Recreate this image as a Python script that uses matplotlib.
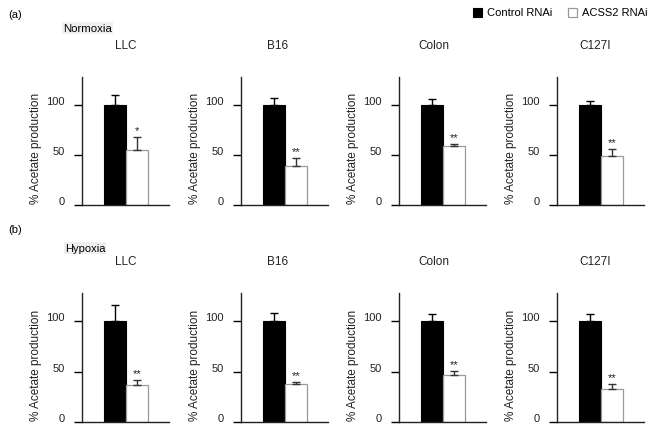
import numpy as np
import matplotlib
matplotlib.use("Agg")
import matplotlib.pyplot as plt
import matplotlib.transforms as mtransforms
from matplotlib.patches import Rectangle

plt.rcParams['font.family'] = ['Liberation Sans', 'DejaVu Sans']

# =========================
# DATA
# =========================
cell_lines = ["LLC", "B16", "Colon", "C127I"]
groups = ["Control RNAi", "ACSS2 RNAi"]

normoxia_control = [100, 100, 100, 100]
normoxia_control_err = [10, 7, 6, 4]
normoxia_acss2 = [55, 39, 59, 49]
normoxia_acss2_err = [13, 8, 2, 7]
normoxia_sig = ["*", "**", "**", "**"]

hypoxia_control = [100, 100, 100, 100]
hypoxia_control_err = [16, 8, 7, 7]
hypoxia_acss2 = [37, 38, 47, 33]
hypoxia_acss2_err = [5, 1.5, 4, 5]
hypoxia_sig = ["**", "**", "**", "**"]

yticks = [0, 50, 100]

# =========================
# LAYOUT (pixels of the 649x427 image)
# =========================
W, H = 649, 427
fig = plt.figure(figsize=(W / 100, H / 100), dpi=100)

ax_left_px = [82, 241, 399, 557]
ax_w_px = 87
title_x_px = [126, 278, 434, 595]
rows = [(78, 206), (294, 423)]   # top / bottom of each row of axes


def draw_panel(ax, ctrl, ctrl_err, acss, acss_err, sig):
    ax.bar(0, ctrl, width=1.0, color='black', edgecolor='black', linewidth=0.8)
    ax.bar(1, acss, width=1.0, color='white', edgecolor='#9a9a9a', linewidth=0.9)
    ax.errorbar([0], [ctrl], yerr=[[0], [ctrl_err]], fmt='none', ecolor='black',
                elinewidth=1.0, capsize=3, capthick=1.0)
    ax.errorbar([1], [acss], yerr=[[0], [acss_err]], fmt='none', ecolor='#333333',
                elinewidth=1.0, capsize=3, capthick=1.0)
    ax.text(1, acss + acss_err + 2, sig, ha='center', va='bottom', fontsize=8,
            color='#222222')
    ax.set_xlim(-1.5, 2.45)
    ax.set_ylim(0, 128)
    ax.set_yticks(yticks)
    ax.set_xticks([])
    ax.tick_params(axis='y', direction='out', length=5.8, width=1.0, labelsize=8,
                   pad=6.5, labelcolor='#222222')
    # labels sit a little above their ticks in the original
    shift = mtransforms.ScaledTranslation(0, 5 / 100, fig.dpi_scale_trans)
    for lab in ax.get_yticklabels():
        lab.set_transform(lab.get_transform() + shift)
    for s in ['top', 'right']:
        ax.spines[s].set_visible(False)
    for s in ['left', 'bottom']:
        ax.spines[s].set_linewidth(1.0)
        ax.spines[s].set_color('#222222')
    ax.set_ylabel('% Acetate production', fontsize=8.5, color='#222222')
    ax.yaxis.set_label_coords(-40 / ax_w_px, 0.45)


data_rows = [
    (normoxia_control, normoxia_control_err, normoxia_acss2, normoxia_acss2_err, normoxia_sig),
    (hypoxia_control, hypoxia_control_err, hypoxia_acss2, hypoxia_acss2_err, hypoxia_sig),
]

for (top, bot), (c, ce, a, ae, sg) in zip(rows, data_rows):
    for i, name in enumerate(cell_lines):
        ax = fig.add_axes([ax_left_px[i] / W, (H - bot) / H, ax_w_px / W, (bot - top) / H])
        draw_panel(ax, c[i], ce[i], a[i], ae[i], sg[i])
        fig.text(title_x_px[i] / W, 1 - (top - 32) / H, name, fontsize=8.5,
                 ha='center', va='center', color='#222222')

# panel labels
fig.text(8 / W, 1 - 15 / H, '(a)', fontsize=8, va='center', ha='left')
fig.text(63 / W, 1 - 29 / H, 'Normoxia', fontsize=8.2, va='center', ha='left',
         bbox=dict(facecolor='#efefef', edgecolor='none', pad=0.6))
fig.text(8 / W, 1 - 230 / H, '(b)', fontsize=8, va='center', ha='left')
fig.text(65 / W, 1 - 249 / H, 'Hypoxia', fontsize=8, va='center', ha='left',
         bbox=dict(facecolor='#efefef', edgecolor='none', pad=0.6))

# legend
fig.patches.append(Rectangle((473 / W, 1 - 18 / H), 9 / W, 9 / H, transform=fig.transFigure,
                             facecolor='black', edgecolor='black', linewidth=0.8))
fig.text(487 / W, 1 - 13.5 / H, groups[0], fontsize=8, va='center', ha='left')
fig.patches.append(Rectangle((568 / W, 1 - 18 / H), 9 / W, 9 / H, transform=fig.transFigure,
                             facecolor='white', edgecolor='#9a9a9a', linewidth=0.9))
fig.text(582 / W, 1 - 13.5 / H, groups[1], fontsize=8, va='center', ha='left')

fig.savefig('out.png', dpi=100)
